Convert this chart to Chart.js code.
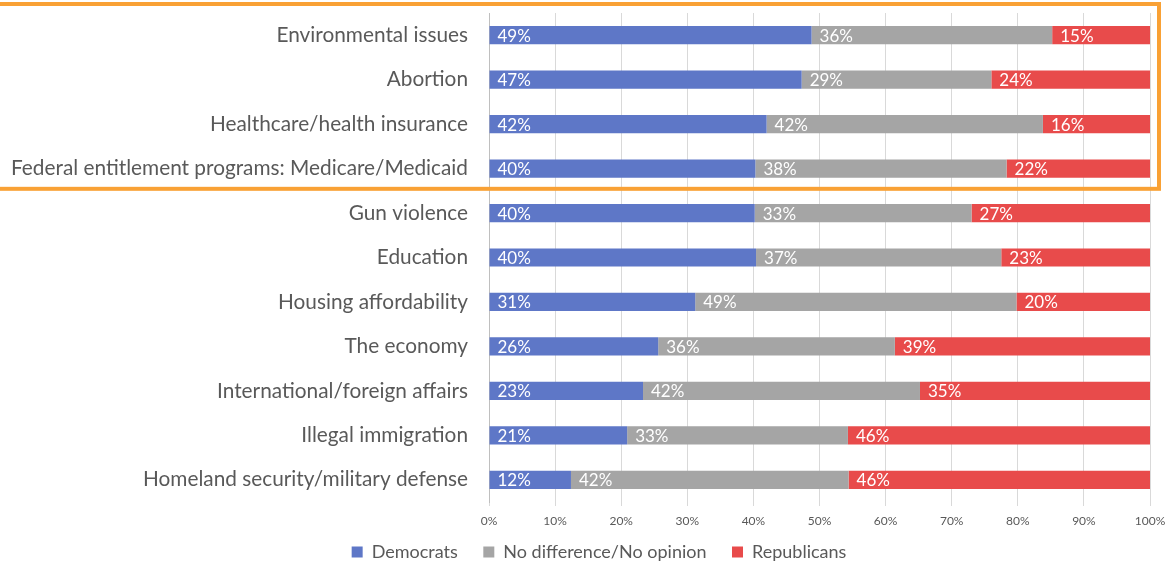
<!DOCTYPE html>
<html>
<head>
<meta charset="utf-8">
<script src="https://cdn.jsdelivr.net/npm/chart.js@4/dist/chart.umd.min.js"></script>
<style>
html,body{margin:0;padding:0;background:#fff;}
#wrap{position:relative;width:1166px;height:563px;}
</style>
</head>
<body>
<div id="wrap"><canvas id="c" width="1166" height="563"></canvas></div>
<script>
const categories = [
  "Environmental issues",
  "Abortion",
  "Healthcare/health insurance",
  "Federal entitlement programs: Medicare/Medicaid",
  "Gun violence",
  "Education",
  "Housing affordability",
  "The economy",
  "International/foreign affairs",
  "Illegal immigration",
  "Homeland security/military defense"
];
const democrats     = [48.8, 47.3, 42.0, 40.3, 40.2, 40.4, 31.2, 25.6, 23.3, 20.9, 12.4];
const noDifference  = [36.4, 28.7, 41.8, 38.0, 32.8, 37.1, 48.6, 35.8, 41.9, 33.4, 42.0];
const republicans   = [14.8, 24.0, 16.2, 21.7, 27.0, 22.5, 20.2, 38.6, 34.8, 45.7, 45.6];
const seriesNames   = ["Democrats", "No difference/No opinion", "Republicans"];
const xTicks        = [0, 10, 20, 30, 40, 50, 60, 70, 80, 90, 100];
const highlightedCount = 4;

const FONT = "Lato";
const TXT = "#595959";

const segLabels = {
  id: "segLabels",
  afterDatasetsDraw(chart) {
    const ctx = chart.ctx;
    ctx.save();
    ctx.font = "17px " + FONT;
    ctx.fillStyle = "#ffffff";
    ctx.textAlign = "left";
    ctx.textBaseline = "middle";
    chart.data.datasets.forEach((ds, di) => {
      const meta = chart.getDatasetMeta(di);
      meta.data.forEach((bar, i) => {
        const v = ds.data[i];
        ctx.fillText(Math.round(v) + "%", bar.base + 8, bar.y + 1);
      });
    });
    ctx.restore();
  }
};

const highlightBox = {
  id: "highlightBox",
  afterDraw(chart) {
    const y = chart.scales.y;
    const x = chart.scales.x;
    const step = y.getPixelForValue(1) - y.getPixelForValue(0);
    const top = y.getPixelForValue(0) - step / 2 - 9;
    const bottom = y.getPixelForValue(highlightedCount - 1) + step / 2 - 2;
    const right = x.getPixelForValue(100) + 9;
    const ctx = chart.ctx;
    ctx.save();
    ctx.strokeStyle = "#F9A135";
    ctx.lineWidth = 4;
    ctx.strokeRect(-10, top, right + 10, bottom - top);
    ctx.restore();
  }
};

const legendShift = {
  id: "legendShift",
  afterLayout(chart) {
    if (chart.legend) {
      chart.legend.left += 32;
      chart.legend.right += 0;
    }
  }
};

const colors = ["#5E77C7", "#A5A5A5", "#E84B4B"];
const values = [democrats, noDifference, republicans];

new Chart(document.getElementById("c"), {
  type: "bar",
  data: {
    labels: categories,
    datasets: seriesNames.map((n, i) => ({
      label: n,
      data: values[i],
      backgroundColor: colors[i],
      borderWidth: 0,
      categoryPercentage: 1,
      barPercentage: 0.41
    }))
  },
  options: {
    indexAxis: "y",
    responsive: false,
    animation: false,
    devicePixelRatio: 1,
    layout: { padding: { top: 13, right: 0, left: 0, bottom: 0 } },
    scales: {
      x: {
        stacked: true,
        min: 0,
        max: 100,
        afterBuildTicks(scale) { scale.ticks = xTicks.map(v => ({ value: v })); },
        afterFit(scale) { scale.height = 29; scale.paddingRight = 16; },
        ticks: {
          callback: v => v + "%",
          font: { family: FONT, size: 12 },
          color: TXT,
          padding: 8
        },
        grid: { color: "#D9D9D9", lineWidth: 1, tickLength: 4, drawTicks: true },
        border: { display: false }
      },
      y: {
        stacked: true,
        afterFit(scale) { scale.width = 489; scale.paddingTop = 0; scale.paddingBottom = 0; },
        ticks: {
          font: { family: FONT, size: 20.8 },
          color: TXT,
          padding: 13,
          autoSkip: false
        },
        grid: { display: false },
        border: { display: true, color: "#BFBFBF", width: 1 }
      }
    },
    plugins: {
      legend: {
        position: "bottom",
        maxHeight: 32,
        labels: {
          font: { family: FONT, size: 18 },
          color: TXT,
          boxWidth: 11,
          boxHeight: 11,
          padding: 12,
          generateLabels(chart) {
            const items = Chart.defaults.plugins.legend.labels.generateLabels(chart);
            items.forEach((it, i) => {
              if (i < items.length - 1) it.text = it.text + "\u2003";
            });
            return items;
          }
        }
      },
      tooltip: { enabled: false }
    }
  },
  plugins: [segLabels, highlightBox, legendShift]
});
</script>
</body>
</html>
